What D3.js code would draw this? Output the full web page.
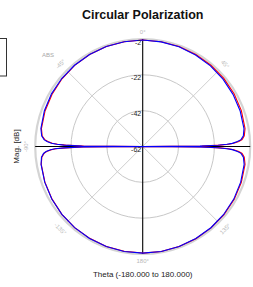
<!DOCTYPE html>
<html>
<head>
<meta charset="utf-8">
<script src="https://cdn.jsdelivr.net/npm/d3@7"></script>
<style>
  body { margin: 0; background: #fff; }
  text { font-family: "Liberation Sans", Arial, sans-serif; }
</style>
</head>
<body>
<div id="plot"></div>
<script>
// Width and height
const w = 253;
const h = 287;
const cx = 142.7;
const cy = 146.5;
const R = 107.5;

// data
const theta = [-180,-170,-160,-150,-140,-130,-120,-110,-100,-96,-94,-93,-92,-91.5,-91,-90.5,-90,
  -89.5,-89,-88.5,-88,-87,-86,-84,-80,-70,-60,-50,-40,-30,-20,-10,0,10,20,30,40,50,60,70,80,
  84,86,87,88,88.5,89,89.5,90,90.5,91,91.5,92,93,94,96,100,110,120,130,140,150,160,170,180];

const blueVals = [-2.5,-2.5,-2.6,-2.7,-2.9,-3.1,-3.4,-3.8,-4.4,-5.2,-6.5,-8,-10.5,-13,-18,-28,-62,
  -28,-18,-14,-11,-8.5,-6.8,-5.3,-4.3,-3.6,-3.2,-3.0,-2.8,-2.7,-2.6,-2.6,-2.6,-2.7,-2.8,-3.0,-3.2,-3.5,-3.8,-4.1,-4.6,
  -5.5,-7,-9,-12,-15,-20,-30,-62,-30,-20,-15,-12,-9,-7,-5.5,-4.5,-3.8,-3.3,-3.0,-2.8,-2.7,-2.6,-2.5,-2.5];

const redVals = [-2.6,-2.6,-2.6,-2.8,-2.9,-3.1,-3.5,-3.9,-4.5,-5.4,-6.8,-8.3,-11,-13.5,-19,-29,-62,
  -29,-19,-14.5,-11.5,-9,-7.2,-5.6,-4.6,-4.0,-3.6,-3.2,-2.9,-2.7,-2.6,-2.6,-2.6,-2.6,-2.6,-2.7,-2.8,-2.9,-3.1,-3.4,-4.0,
  -5.0,-6.4,-8.3,-11.2,-14,-19,-29,-62,-29,-19,-14,-11.2,-8.3,-6.4,-5.0,-4.0,-3.4,-3.0,-2.8,-2.7,-2.6,-2.6,-2.5,-2.5];

const ringVals = [-42, -22, -2];
const ringLabels = ["-2", "-22", "-42", "-62"];
const spokeAngles = [45, -45, 135, -135];
const angleLabels = [
  {t: 0, s: "0°"}, {t: 45, s: "45°"}, {t: -45, s: "-45°"},
  {t: -90, s: "-90°"}, {t: 135, s: "135°"}, {t: -135, s: "-135°"}, {t: 180, s: "180°"}
];

// create SVG element
const svg = d3.select("div#plot")
  .append("svg")
    .attr("width", w)
    .attr("height", h);

svg.append("rect")
  .attr("width", w)
  .attr("height", h)
  .attr("fill", "#fff");

// legend box, mostly off the left edge
svg.append("rect")
  .attr("x", -60)
  .attr("y", 38.5)
  .attr("width", 66.5)
  .attr("height", 37.5)
  .attr("fill", "#fff")
  .attr("stroke", "#333")
  .attr("stroke-width", 1);

// title
svg.append("text")
  .attr("x", cx)
  .attr("y", 19)
  .attr("text-anchor", "middle")
  .style("font-size", "12.5px")
  .style("font-weight", "bold")
  .attr("fill", "#111")
  .text("Circular Polarization");

const rScale = d3.scaleLinear()
  .domain([-62, -2])
  .range([0, R])
  .clamp(true);

const g = svg.append("g")
  .attr("id", "polar")
  .attr("transform", `translate(${cx}, ${cy})`);

// rings
g.selectAll("circle.ring")
  .data(ringVals)
  .enter()
  .append("circle")
    .attr("class", "ring")
    .attr("r", d => rScale(d))
    .attr("fill", "none")
    .attr("stroke", d => d == -2 ? "#d4d4d4" : "#c8c8c8")
    .attr("stroke-width", d => d == -2 ? 2.2 : 1);

// diagonal spokes
g.selectAll("line.spoke")
  .data(spokeAngles)
  .enter()
  .append("line")
    .attr("class", "spoke")
    .attr("x1", 0)
    .attr("y1", 0)
    .attr("x2", d => R * Math.sin(d * Math.PI / 180))
    .attr("y2", d => -R * Math.cos(d * Math.PI / 180))
    .attr("stroke", "#cfcfcf")
    .attr("stroke-width", 1);

// angle labels
g.selectAll("text.ang")
  .data(angleLabels)
  .enter()
  .append("text")
    .attr("class", "ang")
    .attr("transform", d => {
      const a = d.t * Math.PI / 180;
      const rr = d.t == 0 || d.t == 180 ? R + 7 : R + 9;
      const rot = Math.abs(d.t) == 180 || d.t == 0 ? 0 : (Math.abs(d.t) <= 90 ? d.t : (d.t > 0 ? d.t - 180 : d.t + 180));
      return `translate(${rr * Math.sin(a)}, ${-rr * Math.cos(a)}) rotate(${rot})`;
    })
    .attr("text-anchor", "middle")
    .attr("dy", "0.35em")
    .style("font-size", "6px")
    .attr("fill", "#b8b8b8")
    .text(d => d.s);

svg.append("text")
  .attr("x", 48)
  .attr("y", 57)
  .attr("text-anchor", "middle")
  .style("font-size", "6px")
  .attr("fill", "#a8a8a8")
  .text("ABS");

// axes lines
g.append("line")
  .attr("x1", 0).attr("y1", -R)
  .attr("x2", 0).attr("y2", R)
  .attr("stroke", "#000")
  .attr("stroke-width", 1.1);

g.append("line")
  .attr("x1", -R).attr("y1", 0)
  .attr("x2", R).attr("y2", 0)
  .attr("stroke", "#000")
  .attr("stroke-width", 1.1);

// curves
const radial = d3.lineRadial()
  .angle(d => d[0] * Math.PI / 180)
  .radius(d => rScale(d[1]));

g.append("path")
  .datum(theta.map((t, i) => [t, redVals[i]]))
  .attr("d", radial)
  .attr("fill", "none")
  .attr("stroke", "#ff0000")
  .attr("stroke-width", 1.1);

g.append("path")
  .datum(theta.map((t, i) => [t, blueVals[i]]))
  .attr("d", radial)
  .attr("fill", "none")
  .attr("stroke", "#0000ff")
  .attr("stroke-width", 1.1);

// ring value labels
g.selectAll("text.rlab")
  .data(ringLabels)
  .enter()
  .append("text")
    .attr("class", "rlab")
    .attr("x", -1.5)
    .attr("y", d => -rScale(+d) + 5.5)
    .attr("text-anchor", "end")
    .style("font-size", "7px")
    .attr("fill", "#222")
    .text(d => d);

// y-axis label
svg.append("text")
  .attr("transform", `translate(19, ${cy}) rotate(-90)`)
  .attr("text-anchor", "middle")
  .style("font-size", "8px")
  .attr("fill", "#222")
  .text("Mag. [dB]");

// x-axis label
svg.append("text")
  .attr("x", cx)
  .attr("y", 277)
  .attr("text-anchor", "middle")
  .style("font-size", "8px")
  .attr("fill", "#222")
  .text("Theta (-180.000 to 180.000)");
</script>
</body>
</html>
